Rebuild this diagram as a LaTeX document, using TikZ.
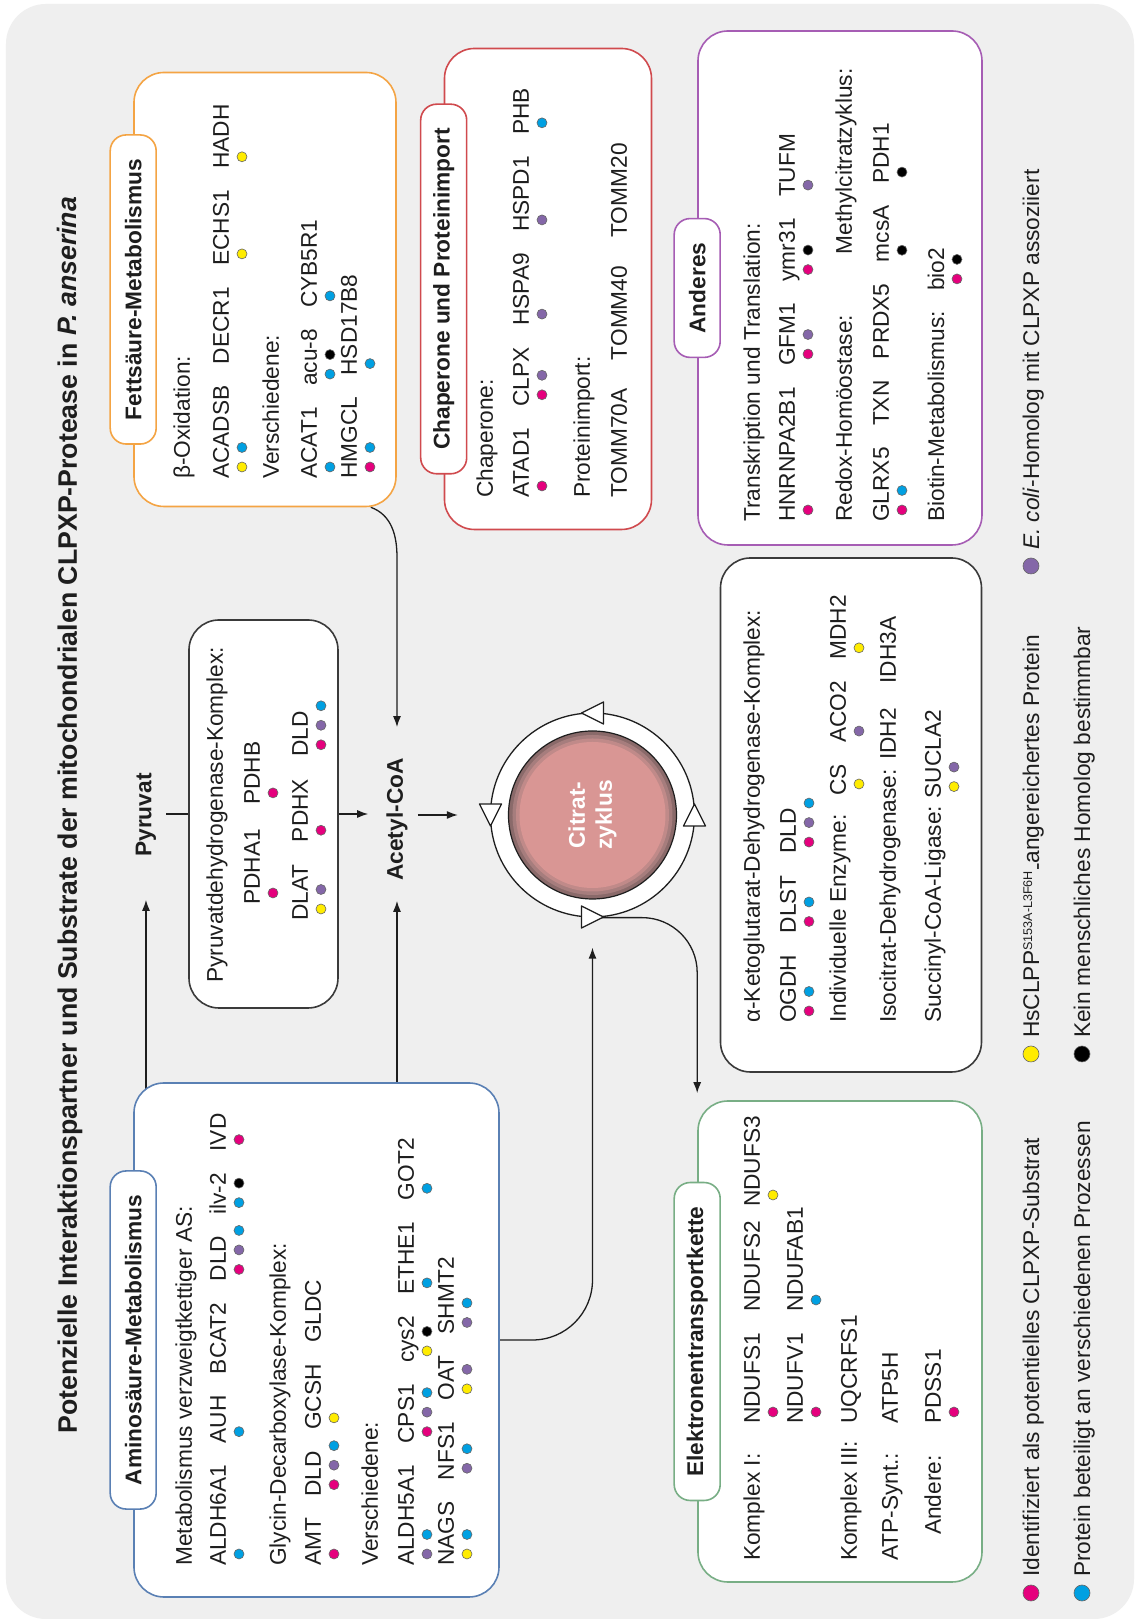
\documentclass[tikz,border=0pt]{standalone}
\usepackage{fontspec}
\setmainfont{Liberation Sans}
\usetikzlibrary{positioning,calc,arrows.meta}

\definecolor{bgc}{HTML}{EFEFEF}
\definecolor{txt}{HTML}{1E1E1E}
\definecolor{mag}{HTML}{E5007D}
\definecolor{cya}{HTML}{00A0E2}
\definecolor{yel}{HTML}{FFEC00}
\definecolor{pur}{HTML}{8467A8}
\definecolor{blk}{HTML}{000000}
\definecolor{fatc}{HTML}{F4A444}
\definecolor{chpc}{HTML}{D04A4E}
\definecolor{othc}{HTML}{A65DB4}
\definecolor{amic}{HTML}{5A80B4}
\definecolor{etcc}{HTML}{78AE85}
\definecolor{boxc}{HTML}{3A3A3A}
\definecolor{rima}{HTML}{8A6A6A}
\definecolor{rimb}{HTML}{A67D7D}
\definecolor{rimc}{HTML}{C08A89}
\definecolor{tcac}{HTML}{D99694}

\pgfdeclarelayer{back}
\pgfsetlayers{back,main}

\tikzset{
  gtxt/.style={inner sep=0pt, anchor=base west, text=txt, font=\fontsize{22.7}{27}\selectfont},
  btxt/.style={gtxt, font=\fontsize{22.7}{27}\selectfont\bfseries},
  mol/.style={btxt, anchor=center},
  ttl/.style={gtxt, font=\fontsize{26.7}{32}\selectfont\bfseries},
  panel/.style={draw=#1, fill=white, line width=1.6pt, rounded corners=30pt},
  boxhead/.style={draw=#1, fill=white, line width=1.6pt, rounded corners=16pt,
    minimum height=46pt, inner xsep=24pt, inner ysep=0pt, text=txt,
    font=\fontsize{22.7}{27}\selectfont\bfseries},
  spot/.style={draw=black!60, line width=0.6pt},
  conn/.style={draw=txt, line width=1.3pt},
  tri/.style={draw=txt, fill=white, line width=1.3pt, line join=round},
}

% coloured dots under a gene name
\newcommand{\spots}[2]{%
  \foreach \col [count=\i] in {#2}
    \draw[spot, fill=\col] ($(#1.base west)+({12+19.5*(\i-1)},-13)$) circle (5);}
\newcommand{\gene}[4]{%
  \node[gtxt, #2] (#1) {#3};
  \if\relax\detokenize{#4}\relax\else\spots{#1}{#4}\fi}

\begin{document}
\begin{tikzpicture}[x=1pt, y=1pt, rotate=90, transform shape, >={Latex[length=11pt,width=8pt]}]
\useasboundingbox (0,0) rectangle (1621,1136);
\begin{pgfonlayer}{back}
  \fill[white] (0,0) rectangle (1621,1136);
  \fill[bgc, rounded corners=40pt] (2,2) rectangle (1617,1130);
\end{pgfonlayer}

\node[ttl] (title) at (187,1059) {Potenzielle Interaktionspartner und Substrate der mitochondrialen CLPXP-Protease in \textit{P. anserina}};

% boxes
\node[panel=fatc, minimum width=434pt, minimum height=262pt] (fat) at (1331.5,871) {};
\node[panel=chpc, minimum width=481pt, minimum height=207pt] (chap) at (1332,588) {};
\node[panel=othc, minimum width=514pt, minimum height=284pt] (oth) at (1333,296) {};
\node[panel=amic, minimum width=514pt, minimum height=365pt] (amino) at (281,819.5) {};
\node[panel=etcc, minimum width=481pt, minimum height=284pt] (etc) at (279.5,296) {};
\node[panel=boxc, minimum width=388pt, minimum height=149pt] (pdh) at (807,872.5) {};
\node[panel=boxc, minimum width=514pt, minimum height=261pt] (akg) at (806,285) {};

\node[boxhead=fatc] (fath) at (fat.north) {Fettsäure-Metabolismus};
\node[boxhead=chpc] (chaph) at (chap.north) {Chaperone und Proteinimport};
\node[boxhead=othc] (othh) at (oth.north) {Anderes};
\node[boxhead=amic] (aminoh) at (amino.north) {Aminosäure-Metabolismus};
\node[boxhead=etcc] (etch) at (etc.north) {Elektronentransportkette};

% Fettsaeure
\node[gtxt] (fbo) at (1142,946) {β-Oxidation:};
\gene{f1}{at={(1142,907)}}{ACADSB}{yel,cya}
\gene{f2}{base right=21pt of f1}{DECR1}{}
\gene{f3}{base right=21pt of f2}{ECHS1}{yel}
\gene{f4}{base right=21pt of f3}{HADH}{yel}
\node[gtxt] (fvs) at (1142,857) {Verschiedene:};
\gene{f5}{at={(1142,819)}}{ACAT1}{cya}
\gene{f6}{base right=21pt of f5}{acu-8}{cya,blk}
\gene{f7}{base right=21pt of f6}{CYB5R1}{cya}
\gene{f8}{at={(1142,779)}}{HMGCL}{mag,cya}
\gene{f9}{base right=21pt of f8}{HSD17B8}{cya}

% Chaperone
\node[gtxt] (cch) at (1123,643) {Chaperone:};
\gene{c1}{at={(1123,607)}}{ATAD1}{mag}
\gene{c2}{base right=21pt of c1}{CLPX}{mag,pur}
\gene{c3}{base right=21pt of c2}{HSPA9}{pur}
\gene{c4}{base right=21pt of c3}{HSPD1}{pur}
\gene{c5}{base right=21pt of c4}{PHB}{cya}
\node[gtxt] (cpi) at (1123,546) {Proteinimport:};
\gene{c6}{at={(1123,509)}}{TOMM70A}{}
\gene{c7}{base right=28pt of c6}{TOMM40}{}
\gene{c8}{base right=28pt of c7}{TOMM20}{}

% Anderes
\node[gtxt] (otr) at (1099,376) {Transkription und Translation:};
\gene{o1}{at={(1099,341)}}{HNRNPA2B1}{mag}
\gene{o2}{base right=21pt of o1}{GFM1}{mag,pur}
\gene{o3}{base right=21pt of o2}{ymr31}{mag,blk}
\gene{o4}{base right=21pt of o3}{TUFM}{pur}
\node[gtxt] (ord) at (1099,284) {Redox-Homöostase:};
\gene{o5}{at={(1099,247)}}{GLRX5}{mag,cya}
\gene{o6}{base right=21pt of o5}{TXN}{}
\gene{o7}{base right=21pt of o6}{PRDX5}{}
\gene{o8}{base right=21pt of o7}{mcsA}{blk}
\gene{o9}{base right=21pt of o8}{PDH1}{blk}
\node[gtxt] (omc) at ([xshift=8pt]o8.base west |- ord.base) {Methylcitratzyklus:};
\node[gtxt] (obi) at (1099,192) {Biotin-Metabolismus:};
\gene{o10}{base right=20pt of obi}{bio2}{mag,blk}

% Aminosaeure
\node[gtxt] (am0) at (55,944) {Metabolismus verzweigtkettiger AS:};
\gene{a1}{at={(55,910)}}{ALDH6A1}{cya}
\gene{a2}{base right=21pt of a1}{AUH}{cya}
\gene{a3}{base right=21pt of a2}{BCAT2}{}
\gene{a4}{base right=21pt of a3}{DLD}{mag,pur,cya}
\gene{a5}{base right=21pt of a4}{ilv-2}{cya,blk}
\gene{a6}{base right=21pt of a5}{IVD}{mag}
\node[gtxt] (am1) at (55,850) {Glycin-Decarboxylase-Komplex:};
\gene{a7}{at={(55,815)}}{AMT}{mag}
\gene{a8}{base right=21pt of a7}{DLD}{mag,pur,cya}
\gene{a9}{base right=21pt of a8}{GCSH}{yel}
\gene{a10}{base right=21pt of a9}{GLDC}{}
\node[gtxt] (am2) at (55,758) {Verschiedene:};
\gene{a11}{at={(55,722)}}{ALDH5A1}{pur,cya}
\gene{a12}{base right=21pt of a11}{CPS1}{mag,pur,cya}
\gene{a13}{base right=21pt of a12}{cys2}{yel,blk}
\gene{a14}{base right=21pt of a13}{ETHE1}{cya}
\gene{a15}{base right=21pt of a14}{GOT2}{cya}
\gene{a16}{at={(55,682)}}{NAGS}{yel,cya}
\gene{a17}{base right=21pt of a16}{NFS1}{pur,cya}
\gene{a18}{base right=21pt of a17}{OAT}{yel,pur}
\gene{a19}{base right=21pt of a18}{SHMT2}{pur,cya}

% Pyruvatdehydrogenase
\node[gtxt] (pdl) at (638,913) {Pyruvatdehydrogenase-Komplex:};
\gene{p1}{at={(716,876)}}{PDHA1}{mag}
\gene{p2}{base right=24pt of p1}{PDHB}{mag}
\gene{p3}{at={(700,828)}}{DLAT}{yel,pur}
\gene{p4}{base right=22pt of p3}{PDHX}{mag}
\gene{p5}{base right=22pt of p4}{DLD}{mag,pur,cya}

% Citratzyklus-Enzyme
\node[gtxt] (kal) at (598,376) {α-Ketoglutarat-Dehydrogenase-Komplex:};
\gene{k1}{at={(598,340)}}{OGDH}{mag,cya}
\gene{k2}{base right=21pt of k1}{DLST}{mag,cya}
\gene{k3}{base right=21pt of k2}{DLD}{mag,pur,cya}
\node[gtxt] (kie) at (598,290) {Individuelle Enzyme:};
\gene{k4}{at={(825,290)}}{CS}{yel}
\gene{k5}{base right=21pt of k4}{ACO2}{pur}
\gene{k6}{base right=21pt of k5}{MDH2}{yel}
\node[gtxt] (kid) at (598,240) {Isocitrat-Dehydrogenase:};
\gene{k7}{at={(861,240)}}{IDH2}{}
\gene{k8}{base right=24pt of k7}{IDH3A}{}
\node[gtxt] (ksl) at (598,195) {Succinyl-CoA-Ligase:};
\gene{k9}{base right=7pt of ksl}{SUCLA2}{yel,pur}

% Elektronentransportkette
\node[gtxt] (ek1) at (60,376) {Komplex I:};
\gene{e1}{at={(197,376)}}{NDUFS1}{mag}
\gene{e2}{at={(309,376)}}{NDUFS2}{}
\gene{e3}{at={(414,376)}}{NDUFS3}{yel}
\gene{e4}{at={(197,333)}}{NDUFV1}{mag}
\gene{e5}{at={(309,333)}}{NDUFAB1}{cya}
\node[gtxt] (ek3) at (60,279) {Komplex III:};
\gene{e6}{at={(197,279)}}{UQCRFS1}{}
\node[gtxt] (eat) at (60,238) {ATP-Synt.:};
\gene{e7}{at={(197,238)}}{ATP5H}{}
\node[gtxt] (ean) at (86,195) {Andere:};
\gene{e8}{at={(197,195)}}{PDSS1}{mag}

% Stoffwechsel-Knoten
\node[mol] (pyr) at (806,990) {Pyruvat};
\node[mol] (acetyl) at (801.5,739) {Acetyl-CoA};

\node[circle, draw=txt, fill=white, line width=1.3pt, minimum size=204pt, inner sep=0pt] (cyc) at (806,543.5) {};
\draw[txt, line width=1.2pt, fill=rima] (cyc.center) circle (84);
\fill[rimb] (cyc.center) circle (80);
\fill[rimc] (cyc.center) circle (76.5);
\fill[tcac] (cyc.center) circle (73);
\node[btxt, anchor=center, text=white, align=center] (tca) at (cyc.center) {Citrat-\\zyklus};
\foreach \a in {0,90,180,270}
  \draw[tri, shift={(806,543.5)}, rotate=\a] (102,11) -- (91,-11) -- (113,-11) -- cycle;

% Legende
\node[gtxt] (lgm) at (44,97) {Identifiziert als potentielles CLPXP-Substrat};
\node[gtxt] (lgc) at (44,46) {Protein beteiligt an verschiedenen Prozessen};
\node[gtxt] (lgy) at (583,97) {HsCLPP\raisebox{7pt}{\fontsize{12.6}{14}\selectfont S153A-L3F6H}\raisebox{-5pt}{-}angereichertes Protein};
\node[gtxt] (lgk) at (583,46) {Kein menschliches Homolog bestimmbar};
\node[gtxt] (lgp) at (1071,97) {\textit{E. coli}-Homolog mit CLPXP assoziiert};
\draw[spot, fill=mag] ($(lgm.base west)+(-16,8)$) circle (8);
\draw[spot, fill=cya] ($(lgc.base west)+(-16,8)$) circle (8);
\draw[spot, fill=yel] ($(lgy.base west)+(-16,8)$) circle (8);
\draw[spot, fill=blk] ($(lgk.base west)+(-16,8)$) circle (8);
\draw[spot, fill=pur] ($(lgp.base west)+(-16,8)$) circle (8);

% Verbindungen
\begin{pgfonlayer}{back}
\draw[conn, ->, shorten >=43pt] (amino.center |- pyr.west) -- (pyr.west);
\draw[conn, ->, shorten >=20pt] (amino.center |- acetyl.west) -- (acetyl.west);
\draw[conn, shorten <=10pt] (pyr.south -| pdh.north) -- (pdh.north);
\draw[conn, ->, shorten >=18pt] (pdh.south) -- (pdh.south |- acetyl.north);
\draw[conn, ->, shorten <=10pt, shorten >=32pt] (acetyl.south -| cyc.north) -- (cyc.north);
\draw[conn, ->, shorten >=31pt] ([yshift=26pt]fat.south west) to[out=250, in=0] ($(fat.south west |- acetyl.east)+(-50,0)$) -- (acetyl.east);
\draw[conn, ->, rounded corners=60pt, shorten >=30pt] (amino.south) |- (cyc.west);
\draw[conn, ->, rounded corners=55pt] (cyc.west) |- ([xshift=7pt]etc.north east);
\end{pgfonlayer}
\end{tikzpicture}
\end{document}
